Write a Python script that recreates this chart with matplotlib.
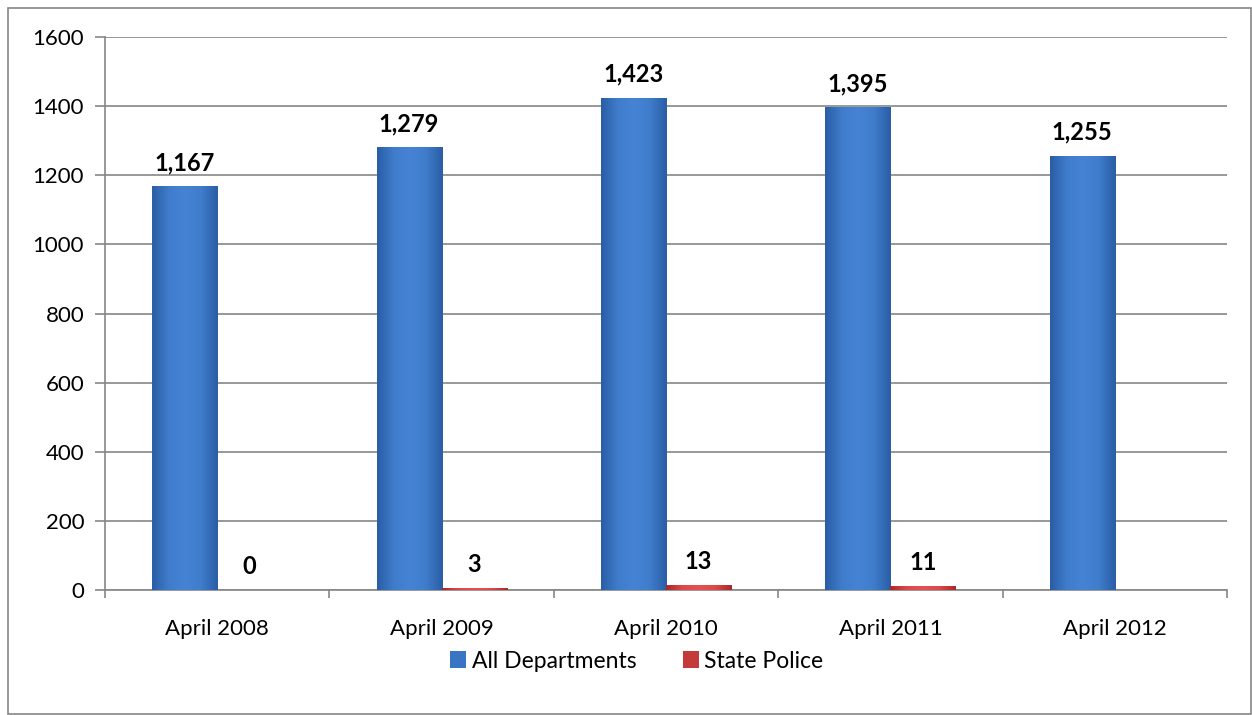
import numpy as np
import matplotlib
matplotlib.use("Agg")
import matplotlib.pyplot as plt
from matplotlib.patches import Rectangle
from matplotlib.colors import LinearSegmentedColormap

categories = ["April 2008", "April 2009", "April 2010", "April 2011", "April 2012"]
all_departments = [1167, 1279, 1423, 1395, 1255]
state_police = [0, 3, 13, 11, np.nan]
series_names = ["All Departments", "State Police"]
y_ticks = [0, 200, 400, 600, 800, 1000, 1200, 1400, 1600]

plt.rcParams['font.family'] = ['Lato', 'DejaVu Sans']

W, H = 1252, 715
fig = plt.figure(figsize=(W / 100, H / 100), dpi=100)
ax = fig.add_axes([105 / W, 1 - 590 / H, (1227 - 105) / W, (590 - 37) / H])

grid_c = "#868686"
x = np.arange(len(categories))
bw = 0.29
blue_bars = ax.bar(x - bw / 2, all_departments, bw, color="#3a75c4", zorder=3,
                   label=series_names[0])
red_bars = ax.bar(x + bw / 2, np.nan_to_num(state_police), bw, color="#c43a3a", zorder=3,
                  label=series_names[1])

blue_cmap = LinearSegmentedColormap.from_list("b", ["#2a5ea5", "#3f7ccc", "#4683d4", "#3f7ccc", "#2a5ea5"])
red_cmap = LinearSegmentedColormap.from_list("r", ["#a62a2a", "#e04848", "#e65050", "#e04848", "#a62a2a"])
grad = np.linspace(0, 1, 100).reshape(1, -1)
for bars, cmap in ((blue_bars, blue_cmap), (red_bars, red_cmap)):
    for b in bars:
        h = b.get_height()
        if h <= 0:
            continue
        x0 = b.get_x()
        ax.imshow(grad, cmap=cmap, aspect="auto", extent=(x0, x0 + b.get_width(), 0, h),
                  zorder=3.5, interpolation="bicubic")

for b, v in zip(blue_bars, all_departments):
    ax.annotate(f"{v:,}", (b.get_x() + b.get_width() / 2, v), xytext=(0, 9),
                textcoords="offset points", ha="center", va="bottom",
                fontsize=17, fontweight="bold", zorder=5)
for b, v in zip(red_bars, state_police):
    if np.isnan(v):
        continue
    ax.annotate(f"{int(v):,}", (b.get_x() + b.get_width() / 2, v), xytext=(0, 9),
                textcoords="offset points", ha="center", va="bottom",
                fontsize=17, fontweight="bold", zorder=5)

ax.set_xlim(-0.5, len(categories) - 0.5)
ax.set_ylim(0, 1600)
ax.set_yticks(y_ticks)
ax.set_yticklabels([str(t) for t in y_ticks], fontsize=16)
ax.yaxis.grid(True, color=grid_c, linewidth=1.2, zorder=0)
ax.set_axisbelow(True)

ax.set_xticks(np.arange(len(categories) + 1) - 0.5)
ax.set_xticklabels([])
ax.set_xticks(x, minor=True)
ax.set_xticklabels(categories, minor=True, fontsize=16)
ax.tick_params(axis="x", which="minor", length=0, pad=21)
ax.tick_params(axis="x", which="major", length=6, color=grid_c, width=1.2)
ax.tick_params(axis="y", length=7, color=grid_c, width=1.2, pad=8)

for s in ("top", "right"):
    ax.spines[s].set_visible(False)
for s in ("left", "bottom"):
    ax.spines[s].set_color(grid_c)
    ax.spines[s].set_linewidth(1.2)

leg = fig.legend(handles=[blue_bars, red_bars], labels=series_names, loc="center",
                 bbox_to_anchor=(637 / W, 1 - 661 / H), ncol=2, frameon=False,
                 fontsize=16.5, handlelength=0.7, handleheight=0.7, handletextpad=0.25,
                 columnspacing=2.0)

fig.patches.append(Rectangle((8 / W, 1 / H), (W - 9) / W, (H - 9) / H,
                             transform=fig.transFigure, fill=False,
                             edgecolor=grid_c, linewidth=1.2))

fig.savefig("out.png", dpi=100)
